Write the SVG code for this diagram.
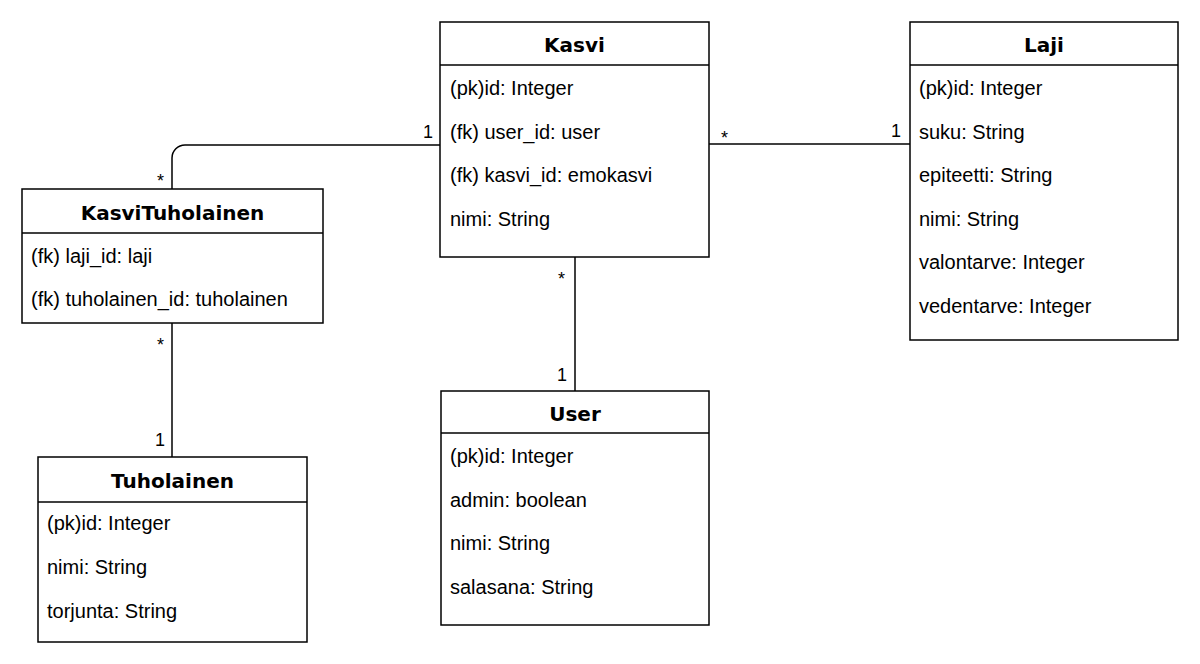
<svg xmlns="http://www.w3.org/2000/svg" width="1200" height="664" viewBox="0 0 1200 664">
<style>
.box{fill:#fff;stroke:#000;stroke-width:1.5}
.div{stroke:#000;stroke-width:1.5}
.title{font-family:"DejaVu Sans",Verdana,sans-serif;font-weight:bold;font-size:20px;text-anchor:middle;fill:#000}
.attr{font-family:"Liberation Sans",Arial,sans-serif;font-size:20px;fill:#000}
.mult{font-family:"Liberation Sans",Arial,sans-serif;font-size:18px;fill:#000}
.edge{fill:none;stroke:#000;stroke-width:1.5}
</style>
<rect width="1200" height="664" fill="#fff"/>
<g id="connectors">
<path class="edge" d="M172 189 V158 A13 13 0 0 1 185 145 H440"/>
<path class="edge" d="M709 144 H910"/>
<path class="edge" d="M575 257 V391"/>
<path class="edge" d="M172 323 V457"/>
<text class="mult" x="433" y="138" text-anchor="end">1</text>
<text class="mult" x="157" y="187">*</text>
<text class="mult" x="721" y="144">*</text>
<text class="mult" x="901" y="137" text-anchor="end">1</text>
<text class="mult" x="558" y="285">*</text>
<text class="mult" x="567" y="381" text-anchor="end">1</text>
<text class="mult" x="157" y="351">*</text>
<text class="mult" x="165" y="446" text-anchor="end">1</text>
</g>
<g id="kasvi">
<rect class="box" x="440" y="22" width="269" height="235"/>
<line class="div" x1="440" y1="65" x2="709" y2="65"/>
<text class="title" x="574.5" y="52">Kasvi</text>
<text class="attr" x="450" y="95">(pk)id: Integer</text>
<text class="attr" x="450" y="138.5">(fk) user_id: user</text>
<text class="attr" x="450" y="182">(fk) kasvi_id: emokasvi</text>
<text class="attr" x="450" y="225.5">nimi: String</text>
</g>
<g id="laji">
<rect class="box" x="910" y="22" width="268" height="318"/>
<line class="div" x1="910" y1="65" x2="1178" y2="65"/>
<text class="title" x="1044" y="52">Laji</text>
<text class="attr" x="919" y="95">(pk)id: Integer</text>
<text class="attr" x="919" y="138.5">suku: String</text>
<text class="attr" x="919" y="182">epiteetti: String</text>
<text class="attr" x="919" y="225.5">nimi: String</text>
<text class="attr" x="919" y="269">valontarve: Integer</text>
<text class="attr" x="919" y="312.5">vedentarve: Integer</text>
</g>
<g id="kasvituholainen">
<rect class="box" x="22" y="189" width="301" height="134"/>
<line class="div" x1="22" y1="233" x2="323" y2="233"/>
<text class="title" x="172.5" y="220">KasviTuholainen</text>
<text class="attr" x="31" y="263">(fk) laji_id: laji</text>
<text class="attr" x="31" y="306">(fk) tuholainen_id: tuholainen</text>
</g>
<g id="tuholainen">
<rect class="box" x="38" y="457" width="269" height="185"/>
<line class="div" x1="38" y1="502" x2="307" y2="502"/>
<text class="title" x="172.5" y="488">Tuholainen</text>
<text class="attr" x="47" y="530">(pk)id: Integer</text>
<text class="attr" x="47" y="574">nimi: String</text>
<text class="attr" x="47" y="618">torjunta: String</text>
</g>
<g id="user">
<rect class="box" x="441" y="391" width="268" height="234"/>
<line class="div" x1="441" y1="433" x2="709" y2="433"/>
<text class="title" x="575" y="421">User</text>
<text class="attr" x="450" y="463">(pk)id: Integer</text>
<text class="attr" x="450" y="507">admin: boolean</text>
<text class="attr" x="450" y="550">nimi: String</text>
<text class="attr" x="450" y="594">salasana: String</text>
</g>
</svg>
